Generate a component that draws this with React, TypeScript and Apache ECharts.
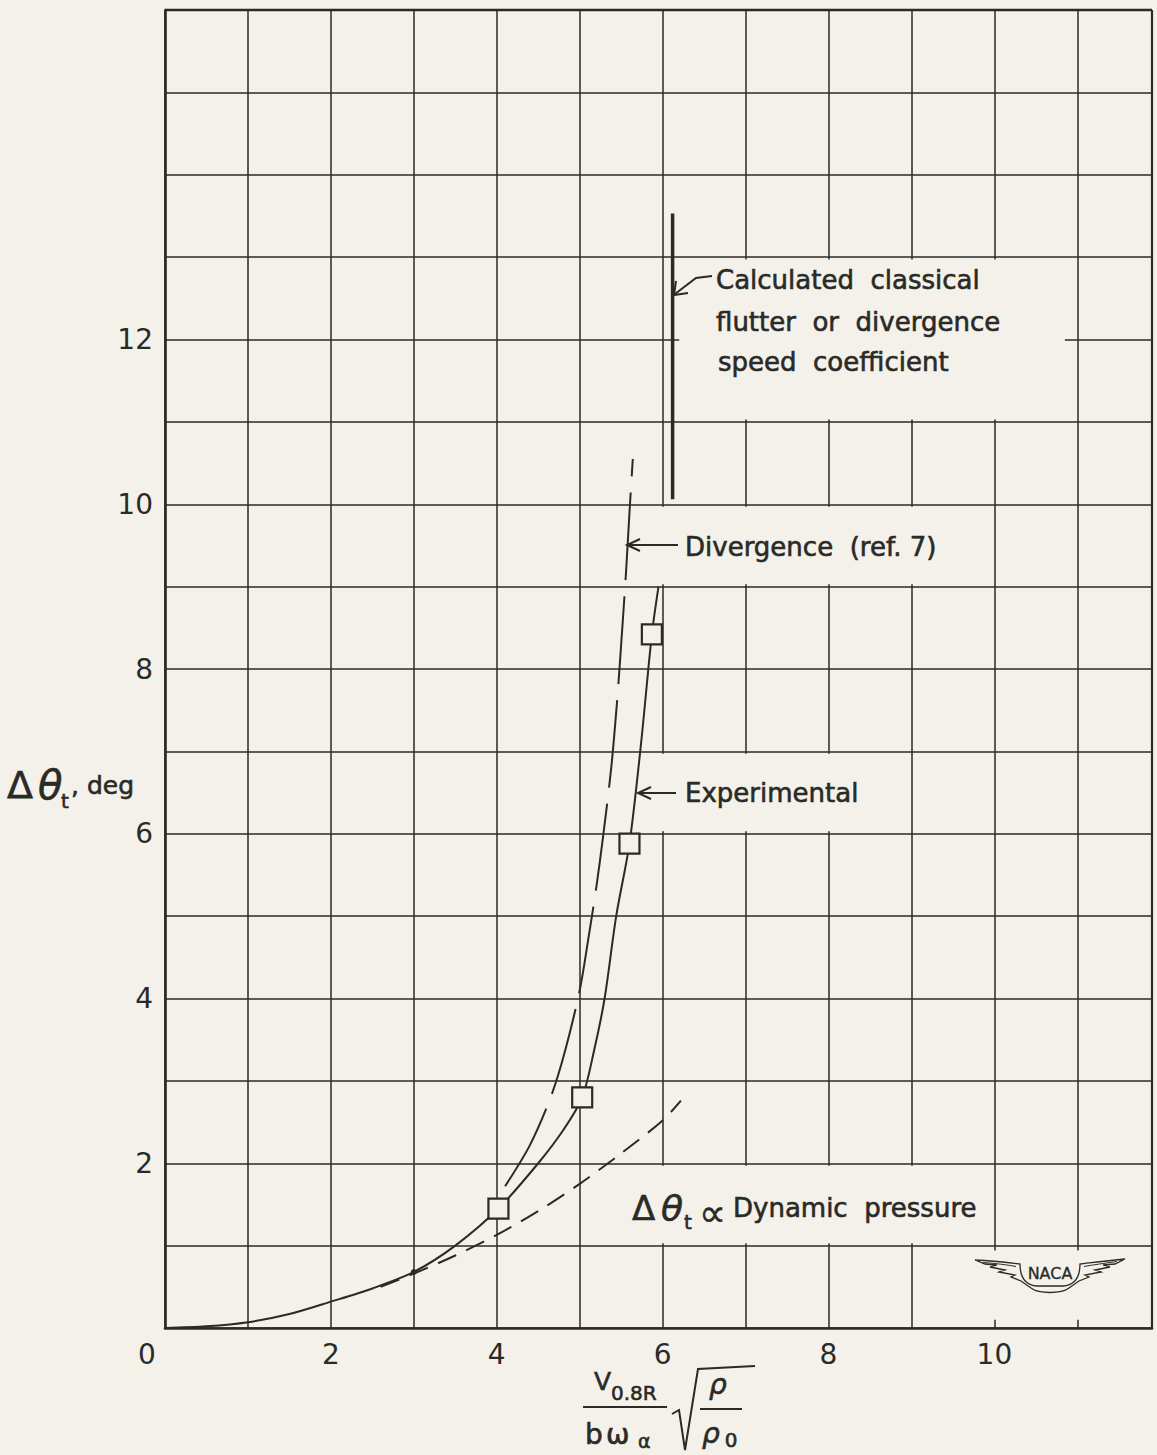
import React, { useEffect, useRef } from "react";
import * as echarts from "echarts";

const PAPER = "#f3f1ea";
const INK = "#2a2a26";
const FONT = "'DejaVu Sans', 'Noto Sans', sans-serif";

// Measured twist points (square symbols)
const experimentalPoints: [number, number][] = [
  [4.02, 1.45],
  [5.03, 2.8],
  [5.6, 5.88],
  [5.87, 8.42],
];

// Faired experimental curve
const experimentalCurve: [number, number][] = [
  [0, 0], [0.5, 0.02], [1, 0.07], [1.5, 0.17], [2, 0.32], [2.5, 0.48],
  [3, 0.68], [3.5, 1.0], [4.02, 1.45], [4.5, 2.0], [4.8, 2.4], [5.03, 2.8],
  [5.18, 3.4], [5.3, 4.0], [5.44, 5.0], [5.6, 5.88], [5.74, 7.1],
  [5.87, 8.42], [5.95, 9.0],
];

// Divergence (ref. 7)
const divergenceCurve: [number, number][] = [
  [4.1, 1.72], [4.4, 2.22], [4.65, 2.8], [4.82, 3.35], [5.0, 4.1], [5.1, 4.7],
  [5.2, 5.35], [5.28, 5.95], [5.38, 6.8], [5.45, 7.6], [5.5, 8.3], [5.56, 9.2],
  [5.6, 9.9], [5.64, 10.55],
];

// Twist proportional to dynamic pressure
const dynamicPressureCurve: [number, number][] = [
  [2.6, 0.5], [3, 0.66], [3.5, 0.88], [4, 1.13], [4.5, 1.42], [5, 1.75],
  [5.5, 2.12], [6, 2.52], [6.22, 2.76],
];

// Calculated classical flutter / divergence speed coefficient
const flutterBoundary: [number, number][] = [
  [6.12, 10.06],
  [6.12, 13.53],
];

// Point where the dynamic-pressure line leaves the faired curve
const tangentPoint: [number, number][] = [[3, 0.68]];

const xTickLabels = [0, 2, 4, 6, 8, 10];
const yTickLabels = [2, 4, 6, 8, 10, 12];

const X_MAX = 11.9;
const Y_MAX = 16;

// NACA wings emblem outline (local pixel units, origin at left wing tip)
const WING_PATH =
  "M0 4 C20 5 36 7 45 8 C45 20 49 29 62 30 L88 30 C101 29 105 20 105 8 C114 7 130 5 150 3 " +
  "L140 8 L128 9 L135 11 L120 14 L126 16 L110 19 L114 21 L104 25 L94 32 " +
  "C86 38 64 38 56 32 L46 25 L36 21 L40 19 L24 16 L30 14 L15 11 L22 9 L10 8 Z";
const WING_INNER = "M8 6.5 C22 7.5 33 9 41 10.5 M109 10.5 C117 9 128 7.5 142 5.5";

let shapesRegistered = false;
function registerShapes() {
  if (shapesRegistered) return;
  echarts.graphic.registerShape("nacaWing", echarts.graphic.extendPath(WING_PATH, {}) as any);
  echarts.graphic.registerShape("nacaWingInner", echarts.graphic.extendPath(WING_INNER, {}) as any);
  shapesRegistered = true;
}

export default function App() {
  const ref = useRef<HTMLDivElement>(null);

  useEffect(() => {
    if (!ref.current) return;
    registerShapes();
    const chart = echarts.init(ref.current, undefined, { renderer: "svg" });

    const lineBase = { type: "line" as const, showSymbol: false, silent: true };

    chart.setOption({
      animation: false,
      backgroundColor: PAPER,
      grid: { left: 165, right: 5, top: 10, bottom: 127 },
      xAxis: {
        type: "value",
        min: 0,
        max: X_MAX,
        interval: 1,
        axisLine: { show: true, lineStyle: { color: INK, width: 2.6 } },
        axisTick: { show: false },
        splitLine: { show: true, lineStyle: { color: INK, width: 1.5 } },
        axisLabel: {
          margin: 12,
          fontSize: 28,
          fontFamily: FONT,
          color: INK,
          showMaxLabel: false,
          formatter: (v: number) => {
            if (!xTickLabels.includes(v)) return "";
            return v === 0 ? "{z|0}" : String(v);
          },
          rich: { z: { fontSize: 28, fontFamily: FONT, color: INK, padding: [0, 36, 0, 0] } },
        },
      },
      yAxis: {
        type: "value",
        min: 0,
        max: Y_MAX,
        interval: 1,
        axisLine: { show: true, lineStyle: { color: INK, width: 2.6 } },
        axisTick: { show: false },
        splitLine: { show: true, lineStyle: { color: INK, width: 1.5 } },
        axisLabel: {
          margin: 12,
          fontSize: 28,
          fontFamily: FONT,
          color: INK,
          formatter: (v: number) => (yTickLabels.includes(v) ? String(v) : ""),
        },
      },
      series: [
        {
          ...lineBase,
          name: "Dynamic pressure",
          data: dynamicPressureCurve,
          smooth: 0.3,
          lineStyle: { color: INK, width: 2, type: [20, 11] },
        },
        {
          ...lineBase,
          name: "Divergence",
          data: divergenceCurve,
          smooth: 0.3,
          lineStyle: { color: INK, width: 2, type: [88, 16] },
        },
        {
          ...lineBase,
          name: "Experimental curve",
          data: experimentalCurve,
          smooth: 0.3,
          lineStyle: { color: INK, width: 2 },
        },
        {
          ...lineBase,
          name: "Flutter speed",
          data: flutterBoundary,
          lineStyle: { color: INK, width: 3.5 },
        },
        {
          type: "scatter",
          name: "Tangent",
          data: tangentPoint,
          symbol: "circle",
          symbolSize: 6,
          itemStyle: { color: INK, opacity: 1 },
          silent: true,
        },
        {
          type: "scatter",
          name: "Experimental",
          data: experimentalPoints,
          symbol: "rect",
          symbolSize: 20,
          itemStyle: { color: PAPER, borderColor: INK, borderWidth: 2.2, opacity: 1 },
          z: 5,
          silent: true,
        },
      ],
    });

    const px = (x: number, y: number) =>
      chart.convertToPixel({ gridIndex: 0 }, [x, y]) as number[];

    // Blank panels behind the annotations
    const box = (x0: number, x1: number, y0: number, y1: number) => {
      const a = px(x0, y1);
      const b = px(x1, y0);
      return {
        type: "rect",
        z: 10,
        silent: true,
        shape: { x: a[0], y: a[1], width: b[0] - a[0], height: b[1] - a[1] },
        style: { fill: PAPER },
      };
    };

    const txt = (
      text: string,
      x: number,
      y: number,
      size: number,
      extra: Record<string, any> = {}
    ) => ({
      type: "text",
      z: 20,
      silent: true,
      x,
      y,
      style: {
        text,
        fill: INK,
        stroke: INK,
        lineWidth: extra.weight ?? 0.6,
        font: `${extra.italic ? "italic " : ""}${size}px ${FONT}`,
        textAlign: extra.align || "left",
        textVerticalAlign: "middle",
      },
    });

    const stroke = (points: number[][], width = 2) => ({
      type: "polyline",
      z: 20,
      silent: true,
      shape: { points },
      style: { stroke: INK, lineWidth: width, fill: "none" },
    });

    const leftArrow = (x0: number, x1: number, y: number) => [
      stroke([[x1, y], [x0, y]], 2),
      stroke([[x0 + 13, y - 6], [x0, y], [x0 + 13, y + 6]], 2),
    ];

    const topLeft = px(0, Y_MAX);
    const topRight = px(X_MAX, Y_MAX);
    const bottomRight = px(X_MAX, 0);

    const annoSize = 26;

    const graphic: any[] = [
      box(6.2, 10.85, 11.03, 12.97),
      box(5.66, 9.6, 9.03, 9.97),
      box(5.78, 8.9, 6.03, 6.97),
      box(5.55, 9.95, 1.03, 1.97),
      box(9.55, 11.85, 0.1, 0.94),

      // heavier frame on top and right
      stroke([topLeft, topRight], 2.6),
      stroke([topRight, bottomRight], 2.2),

      // Calculated classical flutter note
      txt("Calculated  classical", 716, 280, annoSize),
      txt("flutter  or  divergence", 716, 322, annoSize),
      txt("speed  coefficient", 718, 362, annoSize),
      stroke([[712, 276], [696, 278], [675, 294]], 2),
      stroke([[676, 281], [674, 295], [688, 293]], 2),

      // Divergence note
      txt("Divergence  (ref. 7)", 685, 547, annoSize),
      ...leftArrow(627, 678, 545),

      // Experimental note
      txt("Experimental", 685, 793, annoSize),
      ...leftArrow(638, 676, 793),

      // Dynamic pressure note
      txt("Δ", 632, 1208, 34),
      txt("θ", 661, 1208, 36, { italic: true }),
      txt("t", 684, 1222, 20),
      txt("∝", 699, 1213, 38, { weight: 0.4 }),
      txt("Dynamic  pressure", 733, 1208, annoSize),

      // y-axis title
      txt("Δ", 7, 785, 38),
      txt("θ", 38, 785, 40, { italic: true }),
      txt("t", 61, 801, 20),
      txt(", deg", 71, 785, 25),

      // x-axis title: V_0.8R / (b ω_α) · sqrt(ρ/ρ0)
      txt("V", 594, 1381, 25),
      txt("0.8R", 611, 1393, 20),
      stroke([[583, 1407], [667, 1407]], 2),
      txt("b", 585, 1434, 28),
      txt("ω", 606, 1434, 28),
      txt("α", 638, 1441, 19),
      stroke([[672, 1414], [679, 1410], [685, 1450], [698, 1369], [755, 1366]], 2),
      txt("ρ", 718, 1384, 28, { italic: true, align: "center" }),
      stroke([[700, 1409], [742, 1409]], 2),
      txt("ρ", 711, 1433, 28, { italic: true, align: "center" }),
      txt("0", 731, 1440, 20, { align: "center" }),

      // NACA wings
      {
        type: "nacaWing",
        z: 20,
        silent: true,
        x: 975,
        y: 1256,
        style: { fill: PAPER, stroke: INK, lineWidth: 1.3 },
      },
      {
        type: "nacaWingInner",
        z: 21,
        silent: true,
        x: 975,
        y: 1256,
        style: { fill: "none", stroke: INK, lineWidth: 1 },
      },
      txt("NACA", 1050, 1273, 16, { align: "center", weight: 0.3 }),
    ];

    chart.setOption({ graphic });

    return () => chart.dispose();
  }, []);

  return (
    <div
      ref={ref}
      style={{
        position: "absolute",
        left: 0,
        top: 0,
        width: 1157,
        height: 1455,
        background: PAPER,
      }}
    />
  );
}
